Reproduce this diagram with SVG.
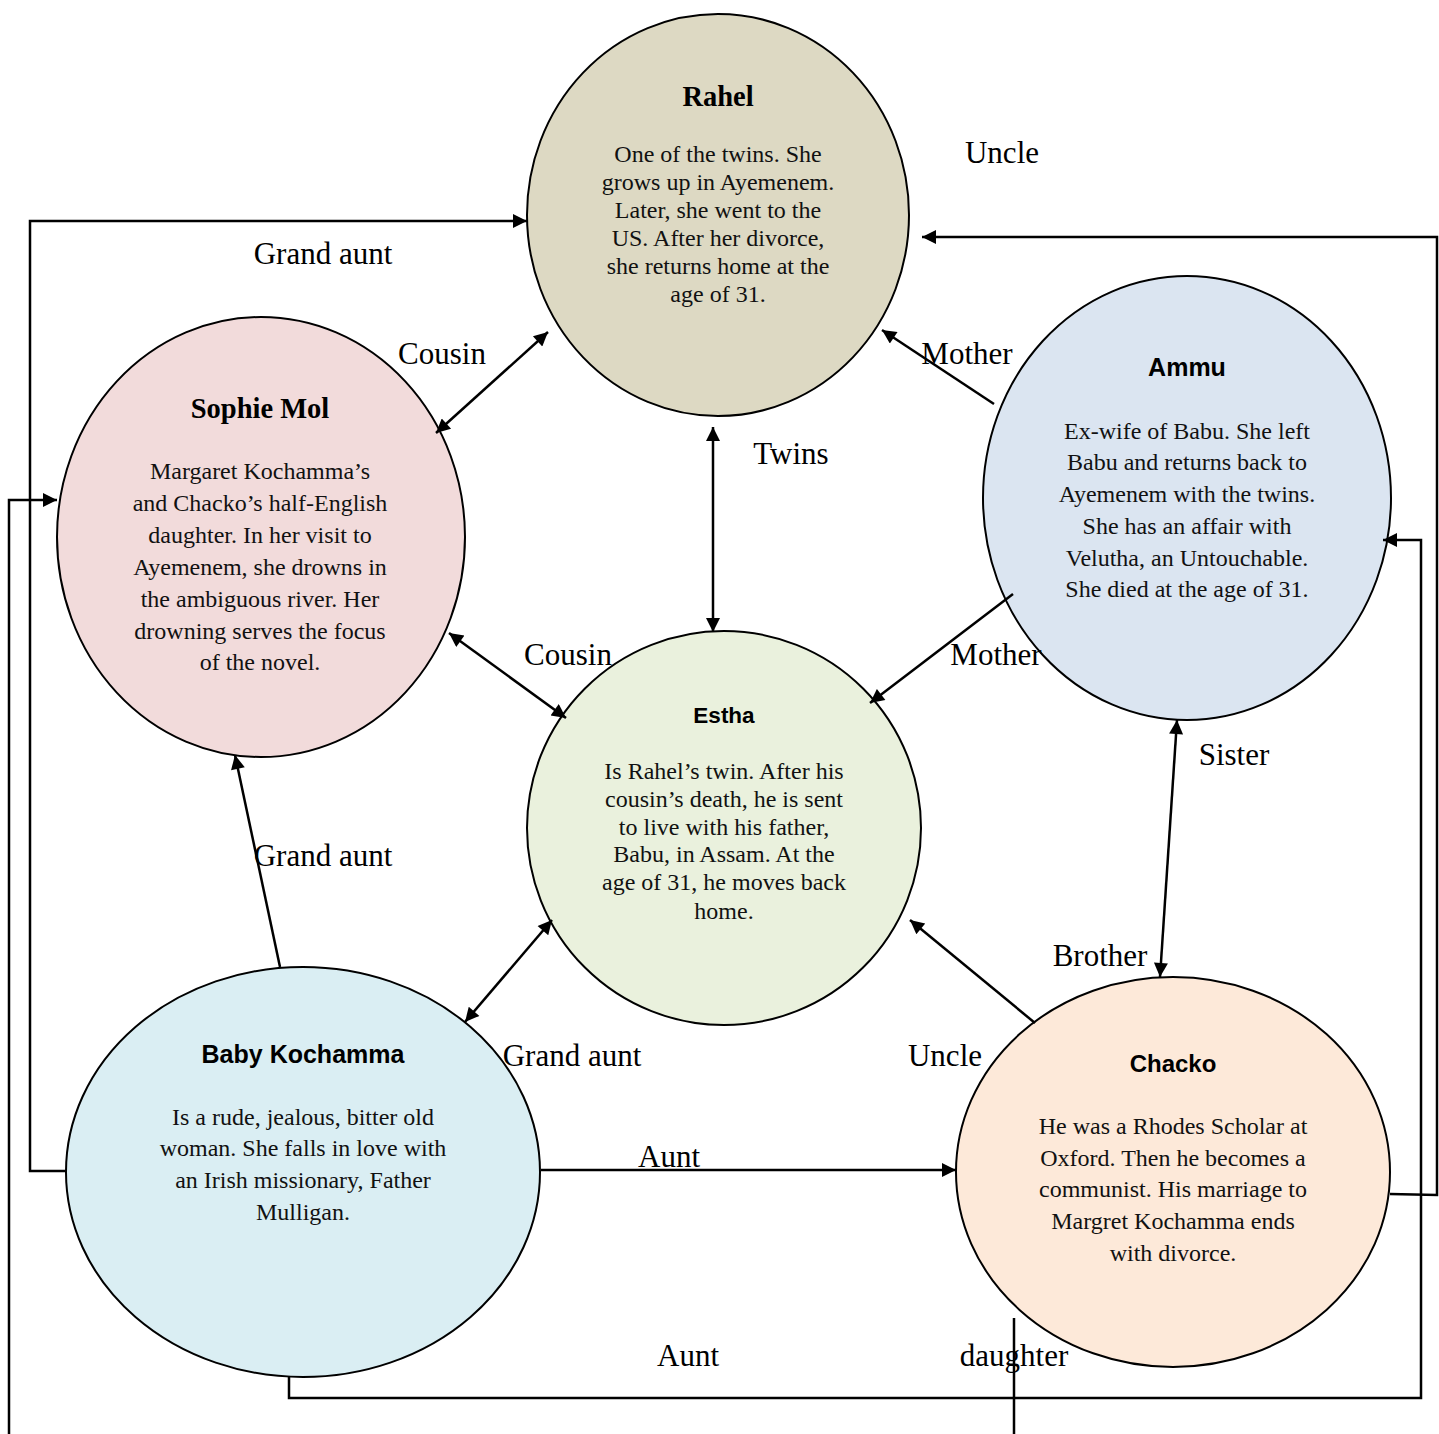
<svg xmlns="http://www.w3.org/2000/svg" width="1439" height="1434" viewBox="0 0 1439 1434">
<style>
.node{stroke:#000;stroke-width:2}
.conn{fill:none;stroke:#000;stroke-width:2.5}
.lbl{font-family:"Liberation Serif",serif;font-size:31px;text-anchor:middle;fill:#000}
.ts{font-family:"Liberation Serif",serif;font-size:28.5px;font-weight:bold;text-anchor:middle}
.ta{font-family:"Liberation Sans",sans-serif;font-size:25px;font-weight:bold;text-anchor:middle}
.body{font-family:"Liberation Serif",serif;font-size:24px;text-anchor:middle;fill:#111}
</style>
<defs>
<marker id="ah" viewBox="0 0 10 10" refX="10" refY="5" markerUnits="userSpaceOnUse" markerWidth="17" markerHeight="14" orient="auto-start-reverse">
<path d="M0,0 L10,5 L0,10 z" fill="#000"/>
</marker>
</defs>
<rect width="1439" height="1434" fill="#fff"/>

<g id="rahel">
<ellipse class="node" cx="718" cy="215" rx="191" ry="201" fill="#DDD9C3"/>
<text class="ts" x="718" y="106">Rahel</text>
<text class="body" x="718" y="162">One of the twins. She</text>
<text class="body" x="718" y="190">grows up in Ayemenem.</text>
<text class="body" x="718" y="218">Later, she went to the</text>
<text class="body" x="718" y="246">US. After her divorce,</text>
<text class="body" x="718" y="274">she returns home at the</text>
<text class="body" x="718" y="302">age of 31.</text>
</g>

<g id="sophie">
<ellipse class="node" cx="261" cy="537" rx="204" ry="220" fill="#F2DBDB"/>
<text class="ts" x="260" y="418">Sophie Mol</text>
<text class="body" x="260" y="479">Margaret Kochamma’s</text>
<text class="body" x="260" y="511">and Chacko’s half-English</text>
<text class="body" x="260" y="543">daughter. In her visit to</text>
<text class="body" x="260" y="575">Ayemenem, she drowns in</text>
<text class="body" x="260" y="607">the ambiguous river. Her</text>
<text class="body" x="260" y="639">drowning serves the  focus</text>
<text class="body" x="260" y="670">of the novel.</text>
</g>

<g id="ammu">
<ellipse class="node" cx="1187" cy="498" rx="204" ry="222" fill="#DBE5F1"/>
<text class="ta" x="1187" y="376">Ammu</text>
<text class="body" x="1187" y="439">Ex-wife of Babu. She left</text>
<text class="body" x="1187" y="470">Babu and returns back to</text>
<text class="body" x="1187" y="502">Ayemenem with the twins.</text>
<text class="body" x="1187" y="534">She has an affair with</text>
<text class="body" x="1187" y="566">Velutha, an Untouchable.</text>
<text class="body" x="1187" y="597">She died at the age of 31.</text>
</g>

<g id="estha">
<ellipse class="node" cx="724" cy="828" rx="197" ry="197" fill="#EAF1DD"/>
<text class="ta" x="724" y="723" style="font-size:22.5px">Estha</text>
<text class="body" x="724" y="779">Is Rahel’s twin. After his</text>
<text class="body" x="724" y="807">cousin’s death, he is sent</text>
<text class="body" x="724" y="835">to live with his father,</text>
<text class="body" x="724" y="862">Babu, in Assam. At the</text>
<text class="body" x="724" y="890">age of 31, he moves back</text>
<text class="body" x="724" y="919">home.</text>
</g>

<g id="babykochamma">
<ellipse class="node" cx="303" cy="1172" rx="237" ry="205" fill="#DAEEF3"/>
<text class="ta" x="303" y="1063">Baby Kochamma</text>
<text class="body" x="303" y="1125">Is a rude, jealous, bitter old</text>
<text class="body" x="303" y="1156">woman. She falls in love with</text>
<text class="body" x="303" y="1188">an Irish missionary, Father</text>
<text class="body" x="303" y="1220">Mulligan.</text>
</g>

<g id="chacko">
<ellipse class="node" cx="1173" cy="1172" rx="217" ry="195" fill="#FDE9D9"/>
<text class="ta" x="1173" y="1072" style="font-size:24px">Chacko</text>
<text class="body" x="1173" y="1134">He was a Rhodes Scholar at</text>
<text class="body" x="1173" y="1166">Oxford. Then he becomes a</text>
<text class="body" x="1173" y="1197">communist. His marriage to</text>
<text class="body" x="1173" y="1229">Margret Kochamma ends</text>
<text class="body" x="1173" y="1261">with divorce.</text>
</g>

<g id="connectors">
<line class="conn" x1="548" y1="332" x2="436" y2="433" marker-start="url(#ah)" marker-end="url(#ah)"/>
<line class="conn" x1="713" y1="427" x2="713" y2="632" marker-start="url(#ah)" marker-end="url(#ah)"/>
<line class="conn" x1="449" y1="633" x2="566" y2="718" marker-start="url(#ah)" marker-end="url(#ah)"/>
<line class="conn" x1="994" y1="404" x2="882" y2="330" marker-end="url(#ah)"/>
<line class="conn" x1="1013" y1="594" x2="870" y2="703" marker-end="url(#ah)"/>
<line class="conn" x1="1177" y1="720" x2="1160" y2="977" marker-start="url(#ah)" marker-end="url(#ah)"/>
<line class="conn" x1="1035" y1="1023" x2="910" y2="920" marker-end="url(#ah)"/>
<line class="conn" x1="465" y1="1022" x2="552" y2="920" marker-start="url(#ah)" marker-end="url(#ah)"/>
<line class="conn" x1="280" y1="967" x2="235" y2="755" marker-end="url(#ah)"/>
<line class="conn" x1="541" y1="1170" x2="956" y2="1170" marker-end="url(#ah)"/>
<path class="conn" d="M66,1171 H30 V221 H527" marker-end="url(#ah)"/>
<path class="conn" d="M1390,1194 L1437,1195 V237 H922" marker-end="url(#ah)"/>
<path class="conn" d="M289,1377 V1398 H1421 V540 H1383" marker-end="url(#ah)"/>
<path class="conn" d="M1014,1318 V1460 H9 V500 H57" marker-end="url(#ah)"/>
</g>

<g id="labels">
<text class="lbl" x="1002" y="163">Uncle</text>
<text class="lbl" x="323" y="264">Grand aunt</text>
<text class="lbl" x="442" y="364">Cousin</text>
<text class="lbl" x="967" y="364">Mother</text>
<text class="lbl" x="791" y="464">Twins</text>
<text class="lbl" x="568" y="665">Cousin</text>
<text class="lbl" x="996" y="665">Mother</text>
<text class="lbl" x="1234" y="765">Sister</text>
<text class="lbl" x="323" y="866">Grand aunt</text>
<text class="lbl" x="1100" y="966">Brother</text>
<text class="lbl" x="572" y="1066">Grand aunt</text>
<text class="lbl" x="945" y="1066">Uncle</text>
<text class="lbl" x="669" y="1167">Aunt</text>
<text class="lbl" x="688" y="1366">Aunt</text>
<text class="lbl" x="1014" y="1366">daughter</text>
</g>
</svg>
